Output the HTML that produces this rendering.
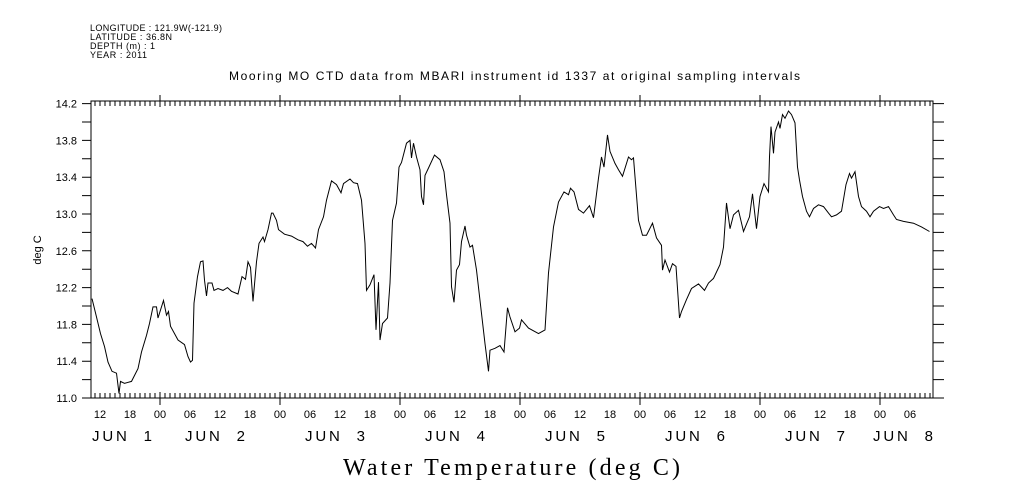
<!DOCTYPE html>
<html><head><meta charset="utf-8"><style>
html,body{margin:0;padding:0;background:#fff;}
svg{display:block;}
text{font-family:"Liberation Sans",sans-serif;fill:#000;}
</style></head><body>
<svg id="chart" width="1009" height="504" viewBox="0 0 1009 504" xmlns="http://www.w3.org/2000/svg">
<g font-size="9">
<text x="90" y="31" textLength="132">LONGITUDE : 121.9W(-121.9)</text>
<text x="90" y="40" textLength="82">LATITUDE : 36.8N</text>
<text x="90" y="49" textLength="65">DEPTH (m) : 1</text>
<text x="90" y="58" textLength="57">YEAR : 2011</text>
</g>
<text x="229" y="80" font-size="12" textLength="571">Mooring MO CTD data from MBARI instrument id 1337 at original sampling intervals</text>
<text transform="translate(41,250) rotate(-90)" font-size="11" text-anchor="middle">deg C</text>
<text x="343" y="475" font-size="24" textLength="337" style="font-family:'Liberation Serif',serif">Water Temperature (deg C)</text>
<rect x="91" y="101" width="842" height="297" fill="none" stroke="#000" stroke-width="1"/>
<g id="axes"></g>
<path id="series" fill="none" stroke="#000" stroke-width="1"/>
</svg>
<script>
// hours since JUN 1 00:00
const hours = [10.4,11.3,12.1,12.9,13.6,14.4,15.3,15.8,16.1,16.9,18.3,19.6,20.3,21.3,21.9,22.6,23.3,23.6,24.7,25.3,25.7,26.1,27.6,28.9,29.6,30.1,30.5,30.8,31.5,32.1,32.6,32.9,33.3,33.6,34.4,34.8,35.6,36.6,37.5,38.3,39.6,40.4,41.1,41.6,42.1,42.6,43.3,43.8,44.6,44.9,45.6,46.3,46.6,47.3,47.7,48.9,50.3,51.6,52.6,53.5,
54.3,55.1,55.7,56.7,57.3,58.3,59.3,60.2,60.7,62,62.7,63.5,64.3,65,65.3,66,66.8,67.2,67.7,68,68.5,69.5,70,70.5,71.3,71.8,72.3,73.3,74,74.3,74.7,75.3,76,76.3,76.7,77,77.7,78.9,80,80.8,81.3,82,82.3,82.8,83.3,83.9,84.3,85,85.3,86,86.5,87.3,88.3,89,89.7,90,91,92,92.8,93.5,94,95,95.9,
96.3,97.7,99.7,101,101.7,102.7,103.7,104.8,105.7,106.1,106.8,107.7,108.7,109.9,110.7,111.7,112.3,112.8,113.5,114,115,115.7,116.5,117.7,118.3,118.7,119.7,120.5,121.3,122.5,123.3,124.3,124.5,125,125.9,126.5,127.2,127.9,128.3,129.3,130.3,131.7,132.9,133.7,134.7,136,136.7,137.3,138,138.7,139.7,140.7,141.9,142.5,143.3,144,144.8,145.7,
145.9,146.2,146.7,147,147.7,148,148.5,149,149.7,150.3,151,151.5,151.9,152.5,153.3,153.9,154.7,155.7,156.7,157.7,158.3,159.3,160.3,161.2,161.9,162.3,163,163.7,164.3,165.3,166,166.7,167.9,168.7,169.7,170.7,171.3,172.7,174.7,176.3,177.9];
const temps = [12.08,11.88,11.70,11.56,11.39,11.29,11.27,11.05,11.18,11.16,11.18,11.32,11.50,11.68,11.81,11.99,11.99,11.87,12.06,11.90,11.94,11.78,11.63,11.58,11.45,11.39,11.41,12.03,12.32,12.48,12.49,12.28,12.11,12.25,12.25,12.17,12.19,12.17,12.20,12.16,12.13,12.32,12.29,12.48,12.42,12.05,12.48,12.68,12.75,12.70,12.83,13.01,13.01,12.93,12.83,12.78,12.76,12.72,12.70,12.65,
12.68,12.63,12.83,12.97,13.15,13.36,13.32,13.23,13.33,13.38,13.34,13.33,13.15,12.68,12.17,12.23,12.34,11.74,12.26,11.63,11.81,11.87,12.25,12.93,13.12,13.51,13.56,13.77,13.80,13.61,13.77,13.62,13.48,13.19,13.10,13.42,13.50,13.64,13.59,13.46,13.21,12.90,12.21,12.04,12.39,12.45,12.70,12.87,12.77,12.64,12.66,12.39,11.92,11.59,11.29,11.52,11.54,11.57,11.50,11.98,11.88,11.72,11.76,
11.85,11.76,11.70,11.74,12.36,12.86,13.13,13.24,13.21,13.28,13.24,13.05,13.01,13.09,12.96,13.39,13.62,13.51,13.86,13.68,13.55,13.48,13.41,13.62,13.59,13.61,12.93,12.77,12.77,12.90,12.74,12.66,12.39,12.50,12.37,12.46,12.43,11.87,11.94,12.07,12.19,12.24,12.17,12.25,12.30,12.45,12.64,13.12,12.84,12.99,13.04,12.81,12.97,13.22,12.84,13.19,13.33,13.24,
13.62,13.95,13.66,13.89,14.00,13.93,14.08,14.04,14.12,14.08,13.99,13.51,13.37,13.19,13.03,12.97,13.06,13.10,13.08,13.01,12.97,12.99,13.03,13.32,13.44,13.39,13.46,13.19,13.08,13.03,12.97,13.03,13.08,13.06,13.08,12.99,12.94,12.92,12.90,12.86,12.81];
const yTickLabels = ["11.0","11.4","11.8","12.2","12.6","13.0","13.4","13.8","14.2"];
const hourLabels = ["00","06","12","18"];
const dayLabels = ["JUN  1","JUN  2","JUN  3","JUN  4","JUN  5","JUN  6","JUN  7","JUN  8"];

const NS="http://www.w3.org/2000/svg";
const L=91,R=933,T=101,B=398;
function xOf(h){return 160+(h-24)*5;}
function yOf(v){return 398-(v-11.0)/0.2*18.4;}
const axes=document.getElementById('axes');
function mk(tag,attrs){const e=document.createElementNS(NS,tag);for(const k in attrs)e.setAttribute(k,attrs[k]);axes.appendChild(e);return e;}
let tp='';
for(let i=0;i<=16;i++){const y=yOf(11+i*0.2);tp+=`M${L-9},${y}H${L}M${R},${y}H${R+11}`;}
for(let h=11;h<=178;h++){const x=xOf(h);
 if(h%24===0){tp+=`M${x},${T-6}V${T+6}M${x},${B-6}V${B+7}`;}
 else{tp+=`M${x},${T}V${T+5}M${x},${B}V${B-5}`;}}
const ticks=mk('path',{d:tp,stroke:'#000','stroke-width':1,fill:'none'});


yTickLabels.forEach((s,i)=>{
 const t=mk('text',{x:L-14,y:yOf(parseFloat(s))+4,'font-size':11,'text-anchor':'end'});
 t.textContent=s;
 
 
});
for(let h=12;h<=178;h+=6){
 const t=mk('text',{x:xOf(h),y:418,'font-size':11,'text-anchor':'middle'});
 t.textContent=hourLabels[(h%24)/6];
 
 
}
dayLabels.forEach((s,i)=>{
 let cx=xOf(i*24)+55;
 if(i===0)cx=122;
 if(i===dayLabels.length-1)cx=903;
 const t=mk('text',{x:cx-30,y:441,'font-size':15,textLength:60,lengthAdjust:'spacing'});
 t.textContent=s;
 t.style.whiteSpace='pre';
 
 
});
let d='';
hours.forEach((h,i)=>{d+=(i?'L':'M')+xOf(h).toFixed(1)+','+yOf(temps[i]).toFixed(1);});
document.getElementById('series').setAttribute('d',d);
</script>
</body></html>
